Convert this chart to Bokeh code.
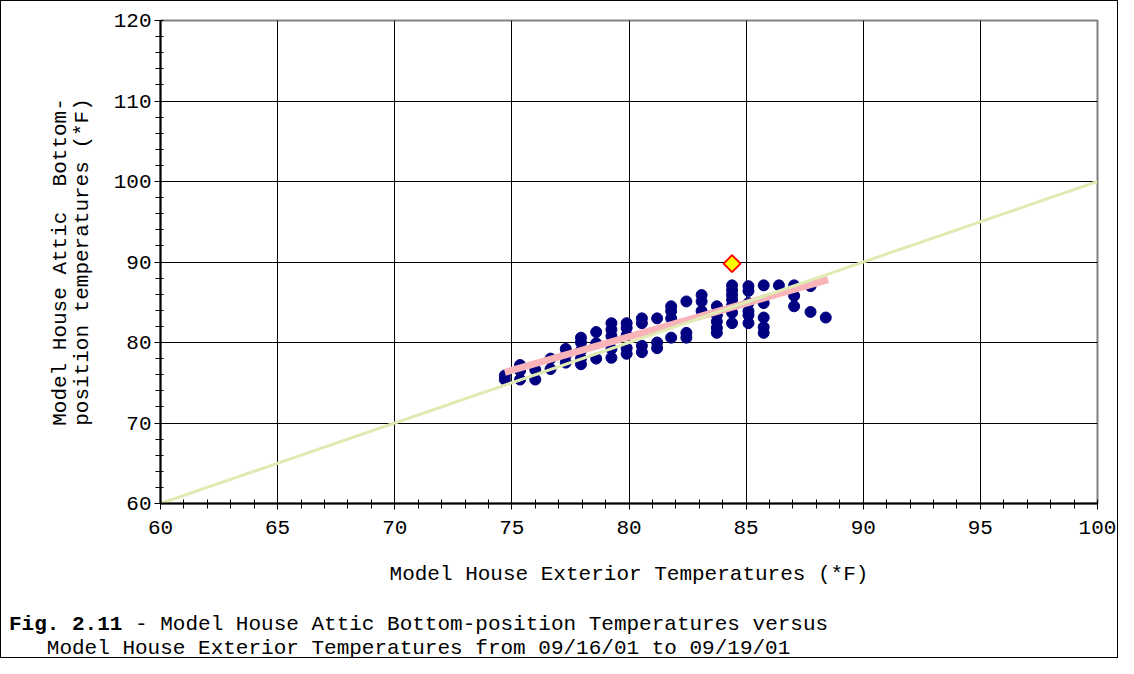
import math
from bokeh.plotting import figure
from bokeh.layouts import column
from bokeh.models import SingleIntervalTicker, FixedTicker, Range1d, Title, Div
from bokeh.embed import file_html
from bokeh.resources import INLINE

# ---- data ----
ext_temp = [
    74.7, 74.7,
    75.35, 75.35, 75.35,
    76.0, 76.0,
    76.65, 76.65,
    77.3, 77.3, 77.3,
    77.95, 77.95, 77.95, 77.95, 77.95,
    78.6, 78.6, 78.6,
    79.25, 79.25, 79.25, 79.25, 79.25,
    79.9, 79.9, 79.9, 79.9, 79.9,
    80.55, 80.55, 80.55, 80.55,
    81.2, 81.2, 81.2,
    81.8, 81.8, 81.8, 81.8,
    82.45, 82.45, 82.45,
    83.1, 83.1, 83.1,
    83.75, 83.75, 83.75, 83.75, 83.75,
    84.4, 84.4, 84.4, 84.4, 84.4, 84.4, 84.4,
    85.1, 85.1, 85.1, 85.1, 85.1, 85.1,
    85.75, 85.75, 85.75, 85.75, 85.75,
    86.4,
    87.05, 87.05, 87.05,
    87.75, 87.75,
    88.4,
]
attic_temp = [
    75.9, 75.4,
    77.2, 76.5, 75.4,
    76.6, 75.4,
    78.0, 76.7,
    79.2, 78.4, 77.5,
    80.6, 80.0, 79.0, 78.0, 77.3,
    81.3, 79.9, 78.0,
    82.4, 81.6, 80.8, 79.2, 78.1,
    82.4, 81.8, 80.9, 79.3, 78.6,
    83.0, 82.4, 79.6, 78.8,
    83.0, 80.0, 79.3,
    84.5, 83.9, 83.0, 80.6,
    85.1, 81.2, 80.6,
    85.9, 85.1, 83.9,
    84.5, 83.4, 82.6, 81.8, 81.2,
    87.1, 86.5, 85.9, 85.3, 84.6, 83.7, 82.4,
    87.0, 86.4, 84.9, 83.9, 83.4, 82.4,
    87.1, 84.9, 83.1, 81.9, 81.2,
    87.1,
    87.1, 85.8, 84.5,
    87.0, 83.8,
    83.1,
]
outlier_x = [84.4]
outlier_y = [89.8]
fit_x = [74.7, 88.5]
fit_y = [76.3, 87.8]
ref_x = [60, 100]
ref_y = [60, 100]

x_title = "Model House Exterior Temperatures (*F)"
y_title = "Model House Attic\u00a0 Bottom-\nposition temperatures (*F)"
caption_bold = "Fig. 2.11"
caption_line_1 = " - Model House Attic Bottom-position Temperatures versus"
caption_line_2 = "   Model House Exterior Temperatures from 09/16/01 to 09/19/01"

FONT = "Liberation Mono"
FS = "21px"
W = 1116
H1 = 597
H2 = 59

p = figure(width=W, height=H1,
           x_range=Range1d(60, 100), y_range=Range1d(60, 120),
           output_backend="svg", toolbar_location=None,
           min_border_left=159, min_border_right=20,
           min_border_top=19, min_border_bottom=95)
p.background_fill_color = "white"
p.border_fill_color = "white"
p.outline_line_color = "#808080"
p.outline_line_width = 2

p.xaxis.ticker = SingleIntervalTicker(interval=5, num_minor_ticks=5)
p.yaxis.ticker = SingleIntervalTicker(interval=10, num_minor_ticks=5)
p.xgrid.ticker = FixedTicker(ticks=[65, 70, 75, 80, 85, 90, 95])
p.ygrid.ticker = FixedTicker(ticks=[70, 80, 90, 100, 110])
for g in (p.xgrid, p.ygrid):
    g.grid_line_color = "black"
    g.grid_line_width = 1

for ax in (p.xaxis, p.yaxis):
    ax.axis_line_color = "black"
    ax.axis_line_width = 2
    ax.major_tick_line_color = "black"
    ax.minor_tick_line_color = "black"
    ax.major_tick_line_width = 1
    ax.minor_tick_line_width = 1
    ax.major_tick_in = 0
    ax.major_tick_out = 6
    ax.major_label_text_font = FONT
    ax.major_label_text_font_size = FS
    ax.major_label_text_color = "black"
p.xaxis.minor_tick_in = 4
p.xaxis.minor_tick_out = 5
p.yaxis.minor_tick_in = 3
p.yaxis.minor_tick_out = 5
p.xaxis.major_label_standoff = 11
p.yaxis.major_label_standoff = 3

p.xaxis.axis_label = x_title
p.xaxis.axis_label_text_font = FONT
p.xaxis.axis_label_text_font_size = FS
p.xaxis.axis_label_text_font_style = "normal"
p.xaxis.axis_label_text_color = "black"
p.xaxis.axis_label_standoff = 26

# y-axis title: two vertical lines
p.add_layout(Title(text=y_title, align="center", text_font=FONT,
                   text_font_size=FS, text_font_style="normal",
                   text_color="black", text_line_height=0.95,
                   standoff=33), "left")

# marks
p.scatter(ext_temp, attic_temp, marker="circle", size=11,
          fill_color="#000080", line_color="#000080")
p.line(fit_x, fit_y, line_color="#F8B4B8", line_width=7)
p.line(ref_x, ref_y, line_color="#E0EBB4", line_width=3)
p.scatter(outlier_x, outlier_y, marker="square", angle=math.pi / 4, size=12,
          fill_color="#FFFF00", line_color="#FF0000", line_width=2)

# caption
cap_html = (
    '<div style="font-family: \'Liberation Mono\', monospace; font-size: 21px; '
    'line-height: 24px; color: black; white-space: pre; '
    'padding: 15px 0 0 8px; margin: 0;">'
    '<div><b>' + caption_bold + '</b>' + caption_line_1 + '</div>'
    '<div>' + caption_line_2 + '</div>'
    '</div>'
)
cap = Div(text=cap_html, width=W, height=H2, margin=0)

layout = column(p, cap, spacing=0)
layout.styles = {"border": "1px solid black"}

open("out.html", "w").write(file_html(layout, INLINE))
